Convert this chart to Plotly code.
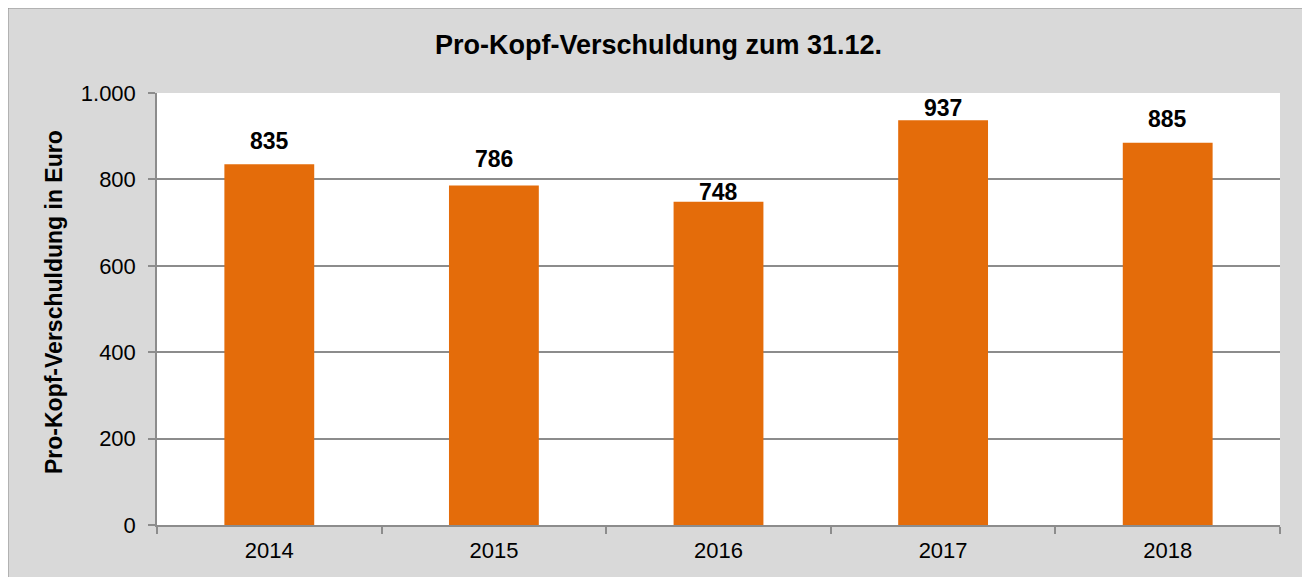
import plotly.graph_objects as go

years = ["2014", "2015", "2016", "2017", "2018"]
debt_per_capita = [835, 786, 748, 937, 885]
y_ticks = [0, 200, 400, 600, 800, 1000]
y_tick_text = ["0", "200", "400", "600", "800", "1.000"]
title_text = "Pro-Kopf-Verschuldung zum 31.12."
y_title_text = "Pro-Kopf-Verschuldung in Euro"

# styling
label_offsets = [23, 26, 10, 12, 24]
FONT = "Liberation Sans, Arial, sans-serif"
BAR = "#E46C0A"
GRID = "#8C8C8C"
OFF = 8  # page body margin
W, H = 1310 - OFF, 577 - OFF
# plot area in page pixels: x 157..1280, y 93..525
L, T = 157 - OFF, 93 - OFF
R, B = W - (1280 - OFF), H - (525 - OFF)
pw, ph = W - L - R, H - T - B


def px_x(p):
    return (p - OFF - L) / pw


def px_y(p):
    return (H - B - (p - OFF)) / ph


fig = go.Figure()
fig.add_trace(go.Bar(
    x=years, y=debt_per_capita, marker=dict(color=BAR, line=dict(width=0)),
    width=0.4, hoverinfo="skip",
))

annotations = []
for i, (v, off) in enumerate(zip(debt_per_capita, label_offsets)):
    annotations.append(dict(
        x=i, y=v, xref="x", yref="y", text=f"<b>{v}</b>", showarrow=False,
        yanchor="middle", yshift=off, font=dict(family=FONT, size=23, color="black"),
    ))
annotations.append(dict(
    x=px_x(658), y=px_y(45), xref="paper", yref="paper", text=f"<b>{title_text}</b>",
    showarrow=False, xanchor="center", yanchor="middle",
    font=dict(family=FONT, size=27, color="black"),
))
annotations.append(dict(
    x=px_x(54), y=px_y(302), xref="paper", yref="paper", text=f"<b>{y_title_text}</b>",
    showarrow=False, xanchor="center", yanchor="middle", textangle=-90,
    font=dict(family=FONT, size=23, color="black"),
))

shapes = [
    dict(type="rect", xref="paper", yref="paper", layer="below",
         x0=px_x(8), x1=px_x(1309), y0=px_y(600), y1=px_y(8),
         fillcolor="#D9D9D9", line=dict(color="#8C8C8C", width=1)),
    dict(type="rect", xref="paper", yref="paper", layer="below",
         x0=0, x1=1, y0=0, y1=1, fillcolor="white", line=dict(width=0)),
]

fig.update_layout(
    width=W, height=H,
    margin=dict(l=L, r=R, t=T, b=B, pad=0),
    paper_bgcolor="white", plot_bgcolor="white",
    showlegend=False, bargap=0.6,
    annotations=annotations, shapes=shapes,
    font=dict(family=FONT, color="black"),
)
fig.update_xaxes(
    type="category", range=[-0.5, len(years) - 0.5],
    showline=True, linecolor=GRID, linewidth=1.5,
    ticks="outside", tickson="boundaries", ticklen=7, tickcolor=GRID, tickwidth=1.5,
    tickfont=dict(family=FONT, size=22, color="black"), ticklabelstandoff=5,
    tickangle=0, showgrid=False, zeroline=False,
)
fig.update_yaxes(
    range=[0, 1000], tickvals=y_ticks, ticktext=y_tick_text,
    showline=True, linecolor=GRID, linewidth=1.5,
    ticks="outside", ticklen=7, tickcolor=GRID, tickwidth=1.5,
    tickfont=dict(family=FONT, size=22, color="black"), ticklabelstandoff=8,
    showgrid=True, gridcolor=GRID, gridwidth=1.5, zeroline=False,
)

fig.write_html("out.html")
